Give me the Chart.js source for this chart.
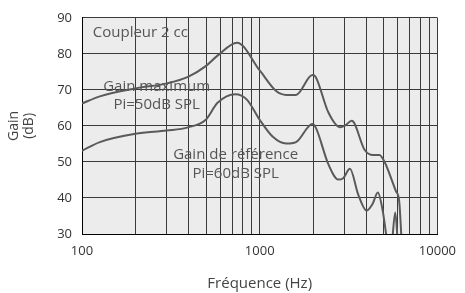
<!DOCTYPE html>
<html>
<head>
<meta charset="utf-8">
<script src="https://cdn.jsdelivr.net/npm/chart.js@4/dist/chart.umd.min.js"></script>
<style>
html, body { margin: 0; padding: 0; background: #fff; }
</style>
</head>
<body>
<canvas id="myChart" width="465" height="293"></canvas>
<script>
// courbe "Gain maximum" (Pi=50dB SPL)
let freq_max = [100, 126, 200, 300, 395, 497, 579, 746, 1000, 1242, 1410, 1600, 1980, 2065, 2436, 2840, 3025, 3295, 3900, 4340, 4720, 5030, 5840, 6090, 6320];
let gain_max = [66.2, 68.2, 70.4, 71.8, 73.6, 76.6, 79.5, 83.1, 75.4, 69.6, 68.6, 68.6, 74.1, 73.6, 63.7, 59.6, 60.1, 61.4, 53.3, 51.9, 51.9, 50.1, 41.9, 39.2, 26];
// courbe "Gain de référence" (Pi=60dB SPL)
let freq_ref = [100, 126, 200, 300, 395, 497, 579, 730, 847, 1000, 1190, 1410, 1600, 1980, 2065, 2436, 2767, 2950, 3220, 3580, 3990, 4320, 4620, 4920, 5140, 5260, 5480, 5790, 6010];
let gain_ref = [53.1, 55.5, 57.8, 58.7, 59.6, 61.7, 66.4, 68.8, 67.3, 61.7, 56.9, 55.1, 55.5, 60.5, 59.6, 49.3, 45.1, 45.5, 48.1, 41.0, 36.5, 38.4, 41.5, 36.5, 30, 26, 26, 36.0, 26];

let x_grid = [100, 200, 300, 400, 500, 600, 700, 800, 900, 1000, 2000, 3000, 4000, 5000, 6000, 7000, 8000, 9000, 10000];
let x_labels = [100, 1000, 10000];

// textes dans le graphe: [texte, fréquence, gain, alignement]
let notes = [
	["Coupleur 2 cc", 115, 85.9, "left"],
	["Gain maximum", 263, 71.0, "center"],
	["Pi=50dB SPL", 263, 65.8, "center"],
	["Gain de référence", 732, 52.0, "center"],
	["Pi=60dB SPL", 732, 46.6, "center"]
];

let font_name = "'Open Sans', 'Noto Sans', sans-serif";
let line_col = "#5a5a5a";
let grid_col = "#3a3a3a";

function toPoints(xs, ys) {
	let pts = [];
	for (let i = 0; i < xs.length; i++) pts.push({x: xs[i], y: ys[i]});
	return pts;
}

const plotBg = {
	id: 'plotBg',
	beforeDraw(chart) {
		let a = chart.chartArea;
		let ctx = chart.ctx;
		ctx.save();
		ctx.fillStyle = '#ececec';
		ctx.fillRect(a.left, a.top, a.right - a.left, a.bottom - a.top);
		ctx.restore();
	}
};

const noteText = {
	id: 'noteText',
	afterDatasetsDraw(chart) {
		let ctx = chart.ctx;
		let sx = chart.scales.x, sy = chart.scales.y;
		ctx.save();
		ctx.font = "15px " + font_name;
		ctx.fillStyle = '#555';
		ctx.textBaseline = 'middle';
		for (let n of notes) {
			ctx.textAlign = n[3];
			ctx.fillText(n[0], sx.getPixelForValue(n[1]), sy.getPixelForValue(n[2]));
		}
		ctx.restore();
	}
};

let data = {
	datasets: [
		{ label: 'Gain maximum', data: toPoints(freq_max, gain_max), borderColor: line_col, borderWidth: 2, pointRadius: 0, fill: false, cubicInterpolationMode: 'monotone' },
		{ label: 'Gain de référence', data: toPoints(freq_ref, gain_ref), borderColor: line_col, borderWidth: 2, pointRadius: 0, fill: false, cubicInterpolationMode: 'monotone' }
	]
};

let options = {
	responsive: false,
	animation: false,
	layout: { padding: { top: 13, right: 21, left: 0, bottom: 0 } },
	plugins: { legend: { display: false }, tooltip: { enabled: false } },
	scales: {
		x: {
			type: 'logarithmic',
			min: 100, max: 10000,
			afterBuildTicks: function(scale) {
				scale.ticks = x_grid.map(v => ({value: v}));
			},
			afterFit: function(scale) { scale.height = 59; },
			grid: { color: grid_col, lineWidth: 1, drawTicks: false },
			border: { color: '#000', width: 1 },
			ticks: {
				autoSkip: false, maxRotation: 0, padding: 9,
				color: '#333', font: { family: font_name, size: 13 },
				callback: function(val) { return x_labels.includes(val) ? String(val) : ''; }
			},
			title: { display: true, text: 'Fréquence (Hz)', color: '#444', font: { family: font_name, size: 15 }, padding: { top: 7, bottom: 0 } }
		},
		y: {
			min: 30, max: 90,
			afterFit: function(scale) { scale.width = 82; },
			grid: { color: grid_col, lineWidth: 1, drawTicks: false },
			border: { color: '#000', width: 1 },
			ticks: { stepSize: 10, padding: 10, color: '#333', font: { family: font_name, size: 13 } },
			title: { display: true, text: ['Gain', '(dB)'], color: '#444', font: { family: font_name, size: 14, lineHeight: 1.1 }, padding: { top: 6, bottom: 0 } }
		}
	}
};

const ctx = document.getElementById('myChart').getContext('2d');
let myChart = new Chart(ctx, { type: 'line', data, options, plugins: [plotBg, noteText] });
</script>
</body>
</html>
